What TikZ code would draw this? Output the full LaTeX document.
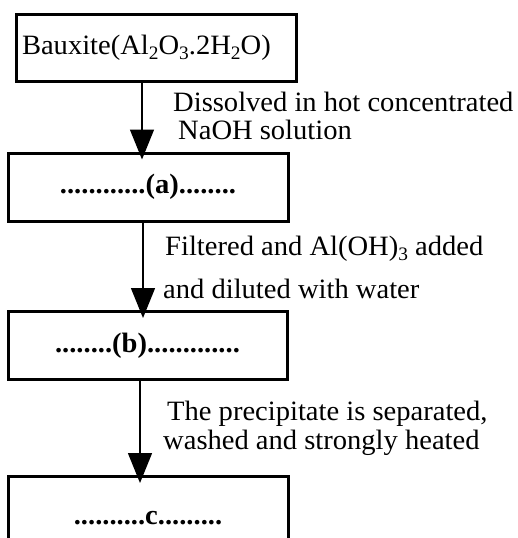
\documentclass[tikz,border=0pt]{standalone}
\usepackage{fontspec}
\setmainfont{Liberation Serif}[FakeStretch=1.02]
\usetikzlibrary{arrows.meta,positioning}
\newcommand{\chemsub}[1]{\raisebox{-0.4ex}{\fontsize{19}{19}\selectfont #1}}

\begin{document}
\begin{tikzpicture}[x=1pt, y=-1pt,
    font=\fontsize{28}{30}\selectfont,
    box/.style={draw, line width=3pt, inner sep=0pt, minimum height=68pt},
    boxtext/.style={font=\fontsize{28}{30}\selectfont\bfseries},
    flow/.style={line width=1.5pt, -{Triangle[length=30pt, width=24pt]}, shorten >=-8pt},
    note/.style={anchor=base west, inner sep=0pt}]
    % Frame
    \useasboundingbox (0,0) rectangle (518,538);

    % Boxes
    \node[box, minimum width=280pt, minimum height=67pt, text width=268pt, align=left] (bauxite) at (156,47.5)
        {Bauxite(Al\chemsub{2}O\chemsub{3}.2H\chemsub{2}O)};
    \node[box, boxtext, minimum width=280pt] (boxa) at (148,187) {............(a)........};
    \node[box, boxtext, minimum width=279pt] (boxb) at (147.5,345.5) {........(b).............};
    \node[box, minimum width=280pt, minimum height=130pt, anchor=north] (boxc) at (148,475) {};
    \node[boxtext, inner sep=0pt] (ctext) at ([yshift=-43pt]boxc.north) {..........c.........};

    % Arrows
    \draw[flow] ([xshift=-6pt]boxa.north |- bauxite.south) -- ([xshift=-6pt]boxa.north);
    \draw[flow] ([xshift=-4.5pt]boxb.north |- boxa.south) -- ([xshift=-4.5pt]boxb.north);
    \draw[flow] ([xshift=-8pt]boxc.north |- boxb.south) -- ([xshift=-8pt]boxc.north);

    % Step notes
    \node[note] (n1) at (173,111) {Dissolved in hot concentrated};
    \node[note] (n2) at (178,139) {NaOH solution};
    \node[note] (n3) at (165,255) {Filtered and Al(OH)\chemsub{3} added};
    \node[note] (n4) at (163,298) {and diluted with water};
    \node[note] (n5) at (167,420) {The precipitate is separated,};
    \node[note] (n6) at (163,449) {washed and strongly heated};
\end{tikzpicture}
\end{document}
